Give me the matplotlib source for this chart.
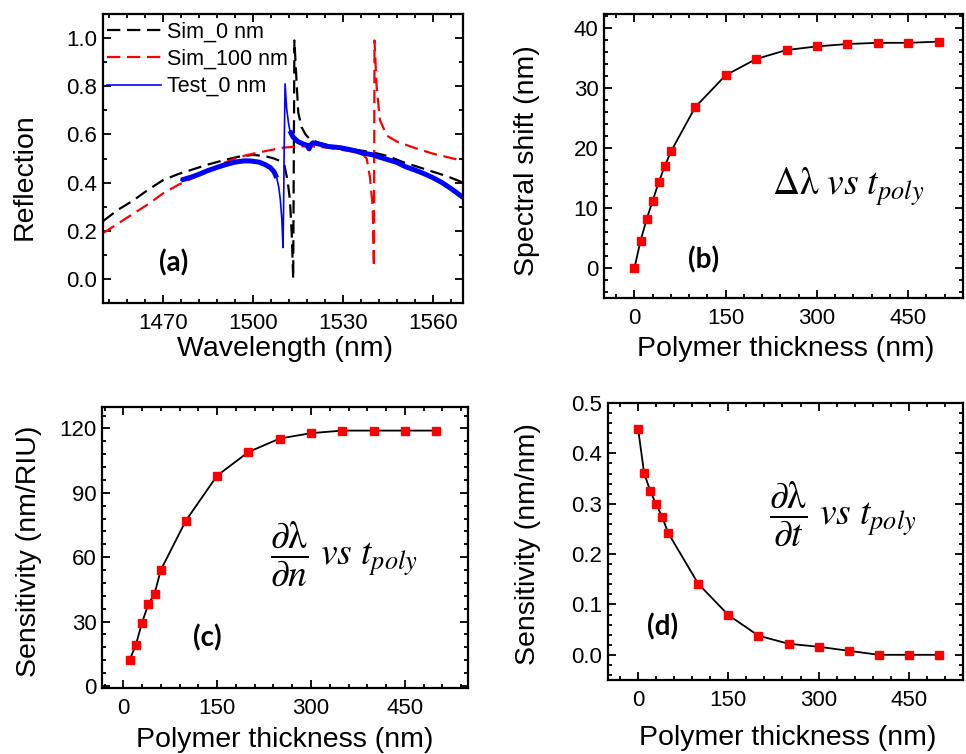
import numpy as np
import matplotlib
matplotlib.use('Agg')
import matplotlib.pyplot as plt
from matplotlib.ticker import MultipleLocator, AutoMinorLocator

plt.rcParams['font.family'] = ['Liberation Sans', 'DejaVu Sans']
plt.rcParams['mathtext.fontset'] = 'stix'

# (a) reflection spectra
sim0_wl = [1450, 1455, 1460, 1465, 1470, 1475, 1480, 1485, 1490, 1495, 1500, 1504, 1507, 1509,
           1510.5, 1511.5, 1512.3, 1512.9, 1513.4, 1513.8, 1514.6, 1515.1, 1516.2, 1517.5, 1519,
           1522, 1525, 1530, 1535, 1540, 1545, 1550, 1555, 1560, 1565, 1570]
sim0_r = [0.24, 0.287, 0.325, 0.37, 0.41, 0.435, 0.455, 0.475, 0.492, 0.507, 0.515, 0.51, 0.50, 0.49,
          0.47, 0.41, 0.33, 0.19, 0.0, 0.99, 0.80, 0.69, 0.63, 0.60, 0.58,
          0.565, 0.555, 0.545, 0.535, 0.525, 0.51, 0.485, 0.465, 0.445, 0.425, 0.40]

sim100_wl = [1450, 1455, 1460, 1465, 1470, 1475, 1480, 1485, 1490, 1495, 1500, 1505, 1510, 1515,
             1520, 1525, 1530, 1534, 1536.8, 1537.9, 1539, 1539.9, 1540.3, 1540.5, 1541.2, 1542.3,
             1544.6, 1548, 1553.4, 1560, 1565, 1570]
sim100_r = [0.19, 0.23, 0.27, 0.31, 0.355, 0.39, 0.42, 0.45, 0.48, 0.505, 0.52, 0.533, 0.545, 0.55,
            0.55, 0.545, 0.535, 0.527, 0.515, 0.50, 0.42, 0.30, 0.05, 0.99, 0.80, 0.66,
            0.595, 0.57, 0.546, 0.52, 0.505, 0.49]

test0_wl = [1476, 1480, 1482.3, 1485, 1488, 1491, 1494, 1497, 1499, 1502, 1504, 1505.7, 1507, 1507.9,
            1508.6, 1509.1, 1509.6, 1510.0, 1510.2, 1510.4, 1510.7, 1511.2, 1511.8, 1512.3, 1513.4,
            1515, 1516.8, 1518, 1518.7, 1519.1, 1520, 1522, 1525, 1529, 1533, 1536.8, 1540, 1542.3,
            1545, 1547.9, 1551, 1554, 1557, 1560, 1563, 1566, 1568, 1570]
test0_r = [0.41, 0.425, 0.436, 0.45, 0.463, 0.475, 0.485, 0.49, 0.49, 0.485, 0.475, 0.463, 0.445, 0.42,
           0.38, 0.33, 0.25, 0.13, 0.30, 0.55, 0.81, 0.71, 0.65, 0.615, 0.588,
           0.57, 0.56, 0.555, 0.54, 0.555, 0.565, 0.56, 0.55, 0.545, 0.535, 0.522, 0.515, 0.505,
           0.495, 0.484, 0.465, 0.452, 0.437, 0.42, 0.40, 0.375, 0.357, 0.338]

# (b)-(d) polymer thickness sweeps
thick_b = [0, 10, 20, 30, 40, 50, 60, 100, 150, 200, 250, 300, 350, 400, 450, 500]
shift_b = [0, 4.5, 8.1, 11.2, 14.3, 17.0, 19.4, 26.8, 32.1, 34.8, 36.3, 36.9, 37.3, 37.5, 37.5, 37.7]

thick_c = [10, 20, 30, 40, 50, 60, 100, 150, 200, 250, 300, 350, 400, 450, 500]
sens_c = [12, 19, 29.5, 38, 43, 54, 77, 98, 109, 115.3, 117.8, 119, 119, 119, 119]

thick_d = [0, 10, 20, 30, 40, 50, 100, 150, 200, 250, 300, 350, 400, 450, 500]
sens_d = [0.449, 0.361, 0.326, 0.299, 0.274, 0.242, 0.141, 0.079, 0.038, 0.022, 0.016, 0.008, 0.0, 0.0, 0.0]

W, H = 966, 754
fig = plt.figure(figsize=(W / 100, H / 100), dpi=100)


def box(l, t, r, b):
    return fig.add_axes([l / W, 1 - b / H, (r - l) / W, (b - t) / H])


def style(ax, xmaj, ymaj):
    ax.xaxis.set_major_locator(MultipleLocator(xmaj))
    ax.yaxis.set_major_locator(MultipleLocator(ymaj))
    ax.xaxis.set_minor_locator(AutoMinorLocator(5))
    ax.tick_params(which='both', direction='in', top=True, right=True, width=1.3, labelsize=16)
    ax.tick_params(which='major', length=5.5)
    ax.tick_params(which='minor', length=3)
    ax.tick_params(axis='x', pad=7)
    ax.tick_params(axis='y', pad=4)
    for s in ax.spines.values():
        s.set_linewidth(1.6)


lab_kw = dict(fontsize=20.5)
tag_kw = dict(fontsize=20, fontweight='bold', family='Lato', ha='center', va='center')
eq_kw = dict(fontsize=27, ha='center', va='center')

# ---- (a)
ax1 = box(103, 14, 463, 303)
ax1.plot(sim0_wl, sim0_r, color='black', lw=1.6, dashes=(6, 3), label='Sim_0 nm')
ax1.plot(sim100_wl, sim100_r, color='red', lw=1.6, dashes=(6, 3), label='Sim_100 nm')
ax1.plot(test0_wl, test0_r, color='blue', lw=1.2, label='Test_0 nm')
wl = np.array(test0_wl)
noisy = np.where((wl <= 1507.9) | (wl >= 1512.3), test0_r, np.nan)
ax1.plot(wl, noisy, color='blue', lw=3.6, solid_capstyle='butt')
ax1.set_xlim(1450, 1570)
ax1.set_ylim(-0.1, 1.1)
style(ax1, 30, 0.2)
ax1.yaxis.set_minor_locator(AutoMinorLocator(2))
ax1.set_xlabel('Wavelength (nm)', va='center', **lab_kw)
ax1.set_ylabel('Reflection', va='center', **lab_kw)
ax1.xaxis.set_label_coords(0.506, -0.158)
ax1.yaxis.set_label_coords(-0.217, 0.436)
ax1.legend(loc='upper left', bbox_to_anchor=(0.012, 0.975), frameon=False, fontsize=15.5,
           handlelength=2.5, handletextpad=0.25, labelspacing=0.3, borderpad=0, borderaxespad=0)
ax1.text(0.195, 0.14, '(a)', transform=ax1.transAxes, **tag_kw)

# ---- (b)
ax2 = box(604, 14, 963, 298)
ax2.plot(thick_b, shift_b, color='black', lw=1.3, marker='s', ms=5.5, mfc='red', mec='red')
ax2.set_xlim(-50, 540)
ax2.set_ylim(-5, 42.3)
style(ax2, 150, 10)
ax2.yaxis.set_minor_locator(AutoMinorLocator(5))
ax2.set_xlabel('Polymer thickness (nm)', va='center', **lab_kw)
ax2.set_ylabel('Spectral shift (nm)', va='center', **lab_kw)
ax2.xaxis.set_label_coords(0.507, -0.18)
ax2.yaxis.set_label_coords(-0.214, 0.482)
ax2.text(0.276, 0.134, '(b)', transform=ax2.transAxes, **tag_kw)
ax2.text(0.68, 0.39, r'$\Delta\mathrm{\lambda}\ vs\ t_{poly}$', transform=ax2.transAxes, **eq_kw)

# ---- (c)
ax3 = box(102, 407, 468, 688)
ax3.plot(thick_c, sens_c, color='black', lw=1.3, marker='s', ms=5.5, mfc='red', mec='red')
ax3.set_xlim(-34, 551)
ax3.set_ylim(-1, 130)
style(ax3, 150, 30)
ax3.yaxis.set_minor_locator(AutoMinorLocator(5))
ax3.set_xlabel('Polymer thickness (nm)', va='center', **lab_kw)
ax3.set_ylabel('Sensitivity (nm/RIU)', va='center', **lab_kw)
ax3.xaxis.set_label_coords(0.5, -0.185)
ax3.yaxis.set_label_coords(-0.2, 0.488)
ax3.text(0.287, 0.178, '(c)', transform=ax3.transAxes, **tag_kw)
ax3.text(0.66, 0.48, r'$\dfrac{\partial\mathrm{\lambda}}{\partial n}\ vs\ t_{poly}$',
         transform=ax3.transAxes, **eq_kw)

# ---- (d)
ax4 = box(608, 403, 963, 680)
ax4.plot(thick_d, sens_d, color='black', lw=1.3, marker='s', ms=5.5, mfc='red', mec='red')
ax4.set_xlim(-50, 540)
ax4.set_ylim(-0.05, 0.5)
style(ax4, 150, 0.1)
ax4.yaxis.set_minor_locator(AutoMinorLocator(5))
ax4.set_xlabel('Polymer thickness (nm)', va='center', **lab_kw)
ax4.set_ylabel('Sensitivity (nm/nm)', va='center', **lab_kw)
ax4.xaxis.set_label_coords(0.507, -0.21)
ax4.yaxis.set_label_coords(-0.225, 0.49)
ax4.text(0.155, 0.19, '(d)', transform=ax4.transAxes, **tag_kw)
ax4.text(0.66, 0.60, r'$\dfrac{\partial\mathrm{\lambda}}{\partial t}\ vs\ t_{poly}$',
         transform=ax4.transAxes, **eq_kw)

fig.savefig('out.png', dpi=100)
